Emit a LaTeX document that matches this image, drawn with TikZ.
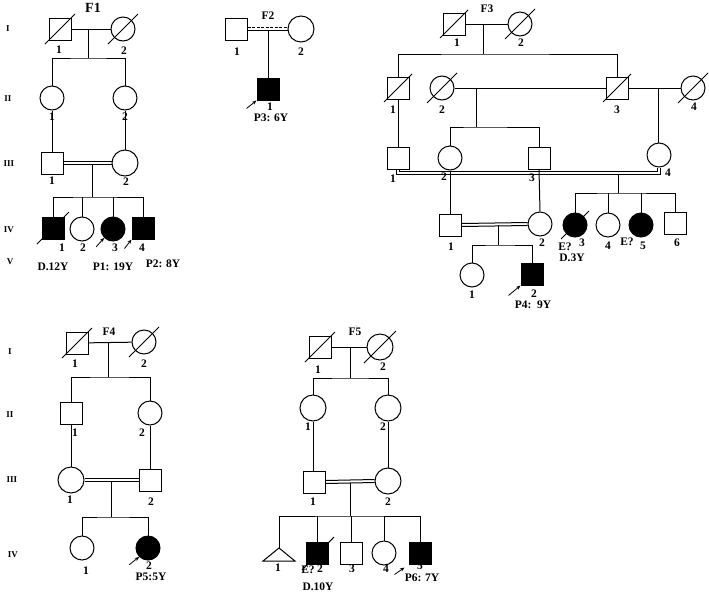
\documentclass[tikz,border=0pt]{standalone}
\usepackage{fontspec}
\setmainfont{Liberation Serif}
\usetikzlibrary{calc,arrows.meta}
\newcounter{lblc}
\newcommand{\lbl}[3][lab]{\stepcounter{lblc}\node[#1] (t\thelblc) at (#2) {#3};}
\newcommand{\dslash}[2][15]{\draw[ln] ([shift={(-#1,#1)}]#2.center) -- ([shift={(#1,-#1)}]#2.center);}
\tikzset{
  ln/.style={line width=1pt},
  male/.style={draw, rectangle, minimum size=22pt, inner sep=0pt, line width=1pt},
  female/.style={draw, circle, minimum size=24pt, inner sep=0pt, line width=1pt},
  femaleb/.style={female, minimum size=26pt},
  aff/.style={fill=black},
  lab/.style={font=\bfseries\fontsize{11.5}{13}\selectfont, inner sep=0pt},
  gen/.style={font=\bfseries\fontsize{9}{10}\selectfont, inner sep=0pt},
  famt/.style={font=\bfseries\fontsize{11.5}{13}\selectfont, inner sep=0pt},
  arr/.style={-{Stealth[length=4.5pt,width=3.5pt]}, line width=0.8pt},
}
\begin{document}
\begin{tikzpicture}[x=1pt,y=-1pt]
\useasboundingbox (0,0) rectangle (709,600);
\fill[white] (0,0) rectangle (709,600);
% ================= F1 =================
\node[famt, font=\bfseries\fontsize{14}{16}\selectfont] (f1t) at (93,8) {F1};
\lbl[gen]{8,29}{I} \lbl[gen]{8,99}{II} \lbl[gen]{9,164}{III} \lbl[gen]{9,230}{IV} \lbl[gen]{10,262}{V}
\node[male] (f1a) at (60,29) {};
\node[female] (f1b) at (123,29) {};
\dslash{f1a} \dslash{f1b}
\coordinate (f1m) at (88,29); \coordinate (f1s) at (88,58);
\draw[ln] (f1a) -- (f1b);
\draw[ln] (f1m) -- (f1s);
\node[female] (f1c) at (52,98) {};
\node[female] (f1d) at (125,98) {};
\draw[ln] (f1c.north) |- (f1s) -| (f1d.north);
\node[male] (f1e) at (52,163) {};
\node[femaleb] (f1f) at (125,163) {};
\draw[ln] (f1c) -- (f1e);
\draw[ln] (f1d) -- (f1f);
\draw[ln] ([yshift=1.5pt]f1e.east) -- ([yshift=1.5pt]f1f.west);
\draw[ln] ([yshift=-1.5pt]f1e.east) -- ([yshift=-1.5pt]f1f.west);
\coordinate (f1m2) at (92,164.5); \coordinate (f1s2) at (92,197);
\draw[ln] (f1m2) -- (f1s2);
\node[male, aff] (f1g) at (53,228) {};
\node[female] (f1h) at (82,229) {};
\node[female, aff] (f1i) at (113,229) {};
\node[male, aff] (f1j) at (143,228) {};
\dslash[16]{f1g}
\draw[ln] (f1g.north) |- (f1s2) -| (f1j.north);
\draw[ln] (f1h.north) -- (f1h.north |- f1s2);
\draw[ln] (f1i.north) -- (f1i.north |- f1s2);
\draw[arr] ($(f1i.south west)+(-8,9)$) -- (f1i.south west);
\draw[arr] ($(f1j.south west)+(-7,9)$) -- (f1j.south west);
\lbl{59,50}{1} \lbl{124,51}{2}
\lbl{52,117}{1} \lbl{125,117}{2}
\lbl{52,181}{1} \lbl{126,182}{2}
\lbl{62,248}{1} \lbl{83,248}{2} \lbl{115,248}{3} \lbl{142,248}{4}
\lbl{53,267}{D.12Y} \lbl{113,267}{P1: 19Y} \lbl{163,264}{P2: 8Y}
% ================= F2 =================
\node[famt] (f2t) at (268,16) {F2};
\node[male] (f2a) at (236,29) {};
\node[femaleb] (f2b) at (301,29) {};
\draw[ln, dash pattern=on 3pt off 1.5pt] ([yshift=1.3pt]f2a.east) -- ([yshift=1.3pt]f2b.west);
\draw[ln] ([yshift=-1.3pt]f2a.east) -- ([yshift=-1.3pt]f2b.west);
\coordinate (f2m) at (268,30.3);
\node[male, aff] (f2c) at (268,89) {};
\draw[ln] (f2m) -- (f2c.north);
\draw[arr] ($(f2c.south west)+(-10,8)$) -- (f2c.south west);
\lbl{237,52}{1} \lbl{301,52}{2}
\lbl{270,107}{1} \lbl{271,118}{P3: 6Y}
% ================= F3 =================
\node[famt] (f3t) at (487,9) {F3};
\node[male] (f3a) at (454,24) {};
\node[female] (f3b) at (520,24) {};
\dslash[14]{f3a} \dslash[15]{f3b}
\draw[ln] (f3a) -- (f3b);
\coordinate (f3m) at (483,24); \coordinate (f3s) at (483,54);
\draw[ln] (f3m) -- (f3s);
\node[male] (f3c) at (398,88) {};
\node[female] (f3d) at (442,88) {};
\node[male] (f3e) at (617,88) {};
\node[female] (f3f) at (693,88) {};
\dslash[14]{f3c} \dslash[15]{f3d} \dslash[14]{f3e} \dslash[15]{f3f}
\draw[ln] (f3c.north) |- (f3s) -| (f3e.north);
\draw[ln] (f3d) -- (f3e);
\draw[ln] (f3e) -- (f3f);
\coordinate (f3m2) at (476,88); \coordinate (f3s2) at (476,127);
\draw[ln] (f3m2) -- (f3s2);
\coordinate (f3m3) at (658,88);
\node[male] (f3g) at (398,158) {};
\node[female] (f3h) at (450,158) {};
\node[male] (f3i) at (539,158) {};
\node[female] (f3j) at (659,155) {};
\draw[ln] (f3c) -- (f3g);
\draw[ln] (f3h.north) |- (f3s2) -| (f3i.north);
\draw[ln] (f3m3) -- (f3m3 |- f3j.north);
\coordinate (f3lo) at (530,174.5); \coordinate (f3hi) at (530,171.5);
\draw[ln] ([xshift=-1.5pt]f3g.south) |- (f3lo) -| ([xshift=1.5pt]f3j.south);
\draw[ln] ([xshift=1.5pt]f3g.south) |- (f3hi) -| ([xshift=-1.5pt]f3j.south);
\coordinate (f3m4) at (618,174.5); \coordinate (f3s4) at (618,193);
\draw[ln] (f3m4) -- (f3s4);
\node[male] (f3k) at (450,225) {};
\node[female] (f3l) at (540,224) {};
\node[female, aff] (f3n) at (575,225) {};
\node[female] (f3o) at (608,225) {};
\node[female, aff] (f3p) at (641,225) {};
\node[male] (f3q) at (675,223) {};
\dslash[14]{f3n}
\draw[ln] (f3h) -- (f3k);
\draw[ln] (f3i.south) -- (f3l.north);
\draw[ln] (f3n.north) |- (f3s4) -| (f3q.north);
\draw[ln] (f3o.north) -- (f3o.north |- f3s4);
\draw[ln] (f3p.north) -- (f3p.north |- f3s4);
\draw[ln] ([yshift=1.5pt]f3k.east) -- ([yshift=1.5pt]f3l.west);
\draw[ln] ([yshift=-1.5pt]f3k.east) -- ([yshift=-1.5pt]f3l.west);
\coordinate (f3m5) at (498,225); \coordinate (f3s5) at (498,245);
\draw[ln] (f3m5) -- (f3s5);
\node[female] (f3r) at (472,275) {};
\node[male, aff] (f3u) at (532,274) {};
\draw[ln] (f3r.north) |- (f3s5) -| (f3u.north);
\draw[arr] ($(f3u.south west)+(-12,10)$) -- (f3u.south west);
\lbl{457,43}{1} \lbl{521,43}{2}
\lbl{393,110}{1} \lbl{442,110}{2} \lbl{617,110}{3} \lbl{694,107}{4}
\lbl{393,179}{1} \lbl{444,177}{2} \lbl{532,178}{3} \lbl{668,173}{4}
\lbl{451,247}{1} \lbl{542,243}{2} \lbl{582,243}{3} \lbl{565,247}{E?} \lbl{572,258}{D.3Y}
\lbl{608,246}{4} \lbl{627,242}{E?} \lbl{643,246}{5} \lbl{677,243}{6}
\lbl{472,295}{1} \lbl{534,294}{2} \lbl{533,305}{P4:~~9Y}
% ================= F4 =================
\node[famt] (f4t) at (109,332) {F4};
\lbl[gen]{10,352}{I} \lbl[gen]{10,415}{II} \lbl[gen]{12,480}{III} \lbl[gen]{13,555}{IV}
\node[male] (f4a) at (77,343) {};
\node[female] (f4b) at (144,342) {};
\dslash[15]{f4a} \dslash[15]{f4b}
\draw[ln] (f4a) -- (f4b);
\coordinate (f4m) at (108,342); \coordinate (f4s) at (108,377);
\draw[ln] (f4m) -- (f4s);
\node[male] (f4c) at (71,413) {};
\node[female] (f4d) at (150,413) {};
\draw[ln] (f4c.north) |- (f4s) -| (f4d.north);
\node[femaleb] (f4e) at (71,480) {};
\node[male] (f4f) at (150,480) {};
\draw[ln] (f4c) -- (f4e);
\draw[ln] (f4d) -- (f4f);
\draw[ln] ([yshift=1.5pt]f4e.east) -- ([yshift=1.5pt]f4f.west);
\draw[ln] ([yshift=-1.5pt]f4e.east) -- ([yshift=-1.5pt]f4f.west);
\coordinate (f4m2) at (111,481.5); \coordinate (f4s2) at (111,517);
\draw[ln] (f4m2) -- (f4s2);
\node[female] (f4g) at (82,548) {};
\node[female, aff] (f4h) at (148,548) {};
\draw[ln] (f4g.north) |- (f4s2) -| (f4h.north);
\draw[arr] ($(f4h.south west)+(-10,8)$) -- (f4h.south west);
\lbl{75,364}{1} \lbl{144,364}{2}
\lbl{75,433}{1} \lbl{142,433}{2}
\lbl{70,500}{1} \lbl{151,502}{2}
\lbl{86,571}{1} \lbl{149,566}{2} \lbl{151,577}{P5:5Y}
% ================= F5 =================
\node[famt] (f5t) at (355,332) {F5};
\node[male] (f5a) at (320,347) {};
\node[femaleb] (f5b) at (380,347) {};
\dslash[15]{f5a} \dslash[16]{f5b}
\draw[ln] (f5a) -- (f5b);
\coordinate (f5m) at (350,347); \coordinate (f5s) at (350,378);
\draw[ln] (f5m) -- (f5s);
\node[femaleb] (f5c) at (313,408) {};
\node[femaleb] (f5d) at (388,408) {};
\draw[ln] (f5c.north) |- (f5s) -| (f5d.north);
\node[male] (f5e) at (314,482) {};
\node[femaleb] (f5f) at (388,481) {};
\draw[ln] (f5c.south) -- (f5c.south |- f5e.north);
\draw[ln] (f5d) -- (f5f);
\draw[ln] ([yshift=1.5pt]f5e.east) -- ([yshift=1.5pt]f5f.west);
\draw[ln] ([yshift=-1.5pt]f5e.east) -- ([yshift=-1.5pt]f5f.west);
\coordinate (f5m2) at (350,482.5); \coordinate (f5s2) at (350,516);
\draw[ln] (f5m2) -- (f5s2);
\coordinate (f5g) at (279,548);
\draw[ln] (f5g) -- (295,561) -- (263,561) -- cycle;
\node[male, aff] (f5h) at (317,553) {};
\node[male] (f5i) at (351,553) {};
\node[female] (f5j) at (384,553) {};
\node[male, aff] (f5k) at (420,553) {};
\draw[ln] ([shift={(-15,17)}]f5h.center) -- ([shift={(17,-16)}]f5h.center);
\draw[ln] (f5g) |- (f5s2) -| (f5k.north);
\draw[ln] (f5h.north) -- (f5h.north |- f5s2);
\draw[ln] (f5i.north) -- (f5i.north |- f5s2);
\draw[ln] (f5j.north) -- (f5j.north |- f5s2);
\draw[arr] ($(f5k.south west)+(-14,10)$) -- ($(f5k.south west)+(-4,3)$);
\lbl{318,370}{1} \lbl{383,367}{2}
\lbl{308,427}{1} \lbl{383,427}{2}
\lbl{313,502}{1} \lbl{388,502}{2}
\lbl{278,568}{1} \lbl{308,570}{E?} \lbl{320,569}{2} \lbl{318,587}{D.10Y}
\lbl{352,569}{3} \lbl{386,569}{4} \lbl{420,566}{5} \lbl{422,578}{P6: 7Y}
\end{tikzpicture}
\end{document}
